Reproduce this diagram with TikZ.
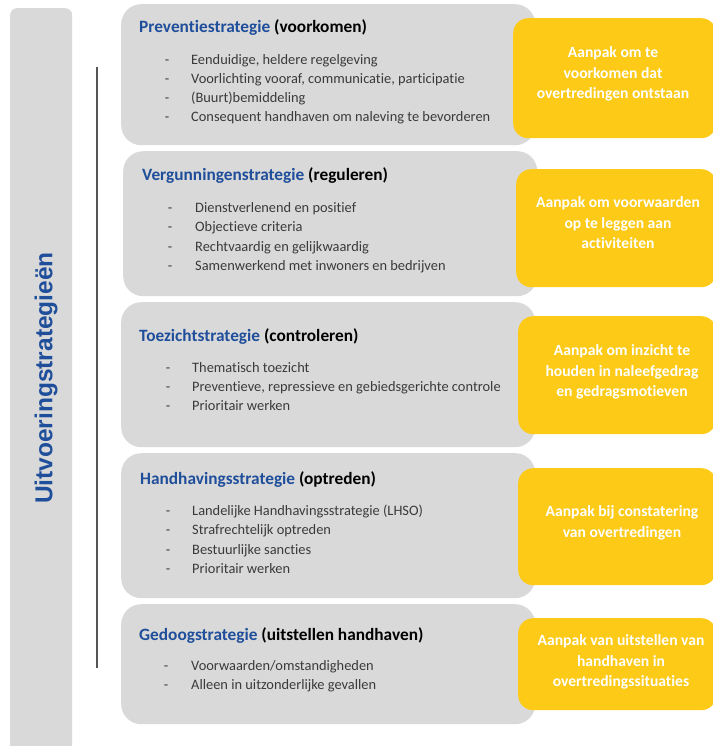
\documentclass[tikz,border=0pt]{standalone}
\usepackage{fontspec}
\setmainfont{Carlito}[Ligatures=NoCommon]
\newfontfamily\sidefont{Liberation Sans}[UprightFont={* Bold}]
\definecolor{boxgray}{HTML}{D9D9D9}
\definecolor{gold}{HTML}{FCCA17}
\definecolor{titleblue}{HTML}{1F4E9A}
\definecolor{txtgray}{HTML}{3A3A3A}
\definecolor{linegray}{HTML}{555555}
\begin{document}
\begin{tikzpicture}[x=1pt,y=-1pt,
  graybox/.style={fill=boxgray, draw=none, rounded corners=20pt, anchor=north west, inner sep=0},
  goldbox/.style={fill=gold, draw=none, rounded corners=15pt, anchor=north west, inner sep=0},
  sidebar/.style={fill=boxgray, draw=none, rounded corners=7pt, anchor=north west, inner sep=0},
  titletext/.style={anchor=base west, inner sep=0, font=\fontsize{17.3}{20}\selectfont\bfseries, text=black},
  itemtext/.style={anchor=base west, inner sep=0, font=\fontsize{14.4}{17}\selectfont, text=txtgray},
  dashmark/.style={anchor=base, inner sep=0, font=\fontsize{14.4}{17}\selectfont, text=txtgray},
  goldtext/.style={align=center, inner sep=0, text=white, font=\fontsize{15.6}{20.5}\selectfont\bfseries},
  sidetext/.style={rotate=90, inner sep=0, text=titleblue, font=\sidefont\fontsize{24.5}{28}\selectfont}
]
\useasboundingbox (0,0) rectangle (712,746);

% left bar
\node[sidebar, minimum width=62pt, minimum height=760pt] (bar) at (10,8) {};
\node[sidetext] (bartext) at (46,378) {Uitvoeringstrategieën};

% vertical line
\coordinate (ltop) at (97,67);
\coordinate (lbot) at (97,668);
\draw[linegray, line width=1.1pt] (ltop) -- (lbot);

% gray boxes
\node[graybox, minimum width=414pt, minimum height=141pt] (g1) at (121,4) {};
\node[graybox, minimum width=414pt, minimum height=145pt] (g2) at (123,151) {};
\node[graybox, minimum width=414pt, minimum height=145pt] (g3) at (121,302) {};
\node[graybox, minimum width=414pt, minimum height=145pt] (g4) at (121,453) {};
\node[graybox, minimum width=414pt, minimum height=120pt] (g5) at (121,604) {};

% gold boxes
\node[goldbox, minimum width=203pt, minimum height=120pt] (y1) at (513,18) {};
\node[goldbox, minimum width=200pt, minimum height=118pt] (y2) at (516,169) {};
\node[goldbox, minimum width=198pt, minimum height=118pt] (y3) at (518,316) {};
\node[goldbox, minimum width=198pt, minimum height=117pt] (y4) at (518,468) {};
\node[goldbox, minimum width=198pt, minimum height=92pt] (y5) at (518,618) {};

% box 1
\node[titletext] (t1) at (139,33) {\textcolor{titleblue}{Preventiestrategie} (voorkomen)};
\node[dashmark] (d11) at (167,65) {-};
\node[itemtext] (i11) at (191,65) {Eenduidige, heldere regelgeving};
\node[dashmark] (d12) at (167,84) {-};
\node[itemtext] (i12) at (191,84) {Voorlichting vooraf, communicatie, participatie};
\node[dashmark] (d13) at (167,103) {-};
\node[itemtext] (i13) at (191,103) {(Buurt)bemiddeling};
\node[dashmark] (d14) at (167,122) {-};
\node[itemtext] (i14) at (191,122) {Consequent handhaven om naleving te bevorderen};

% box 2
\node[titletext] (t2) at (142,181) {\textcolor{titleblue}{Vergunningenstrategie} (reguleren)};
\node[dashmark] (d21) at (170,212) {-};
\node[itemtext] (i21) at (195,212) {Dienstverlenend en positief};
\node[dashmark] (d22) at (170,231) {-};
\node[itemtext] (i22) at (195,231) {Objectieve criteria};
\node[dashmark] (d23) at (170,251) {-};
\node[itemtext] (i23) at (195,251) {Rechtvaardig en gelijkwaardig};
\node[dashmark] (d24) at (170,270) {-};
\node[itemtext] (i24) at (195,270) {Samenwerkend met inwoners en bedrijven};

% box 3
\node[titletext] (t3) at (139,341) {\textcolor{titleblue}{Toezichtstrategie} (controleren)};
\node[dashmark] (d31) at (168,372) {-};
\node[itemtext] (i31) at (192,372) {Thematisch toezicht};
\node[dashmark] (d32) at (168,391) {-};
\node[itemtext] (i32) at (192,391) {Preventieve, repressieve en gebiedsgerichte controle};
\node[dashmark] (d33) at (168,410) {-};
\node[itemtext] (i33) at (192,410) {Prioritair werken};

% box 4
\node[titletext] (t4) at (140,484) {\textcolor{titleblue}{Handhavingsstrategie} (optreden)};
\node[dashmark] (d41) at (168,515) {-};
\node[itemtext] (i41) at (192,515) {Landelijke Handhavingsstrategie (LHSO)};
\node[dashmark] (d42) at (168,534) {-};
\node[itemtext] (i42) at (192,534) {Strafrechtelijk optreden};
\node[dashmark] (d43) at (168,554) {-};
\node[itemtext] (i43) at (192,554) {Bestuurlijke sancties};
\node[dashmark] (d44) at (168,573) {-};
\node[itemtext] (i44) at (192,573) {Prioritair werken};

% box 5
\node[titletext] (t5) at (139,640) {\textcolor{titleblue}{Gedoogstrategie} (uitstellen handhaven)};
\node[dashmark] (d51) at (166,670) {-};
\node[itemtext] (i51) at (191,670) {Voorwaarden/omstandigheden};
\node[dashmark] (d52) at (166,689) {-};
\node[itemtext] (i52) at (191,689) {Alleen in uitzonderlijke gevallen};

% gold texts
\node[goldtext] (a1) at (613,74) {Aanpak om te\\voorkomen dat\\overtredingen ontstaan};
\node[goldtext] (a2) at (618,223) {Aanpak om voorwaarden\\op te leggen aan\\activiteiten};
\node[goldtext] (a3) at (622,372) {Aanpak om inzicht te\\houden in naleefgedrag\\en gedragsmotieven};
\node[goldtext] (a4) at (622,523) {Aanpak bij constatering\\van overtredingen};
\node[goldtext] (a5) at (621,662) {Aanpak van uitstellen van\\handhaven in\\overtredingssituaties};
\end{tikzpicture}
\end{document}
